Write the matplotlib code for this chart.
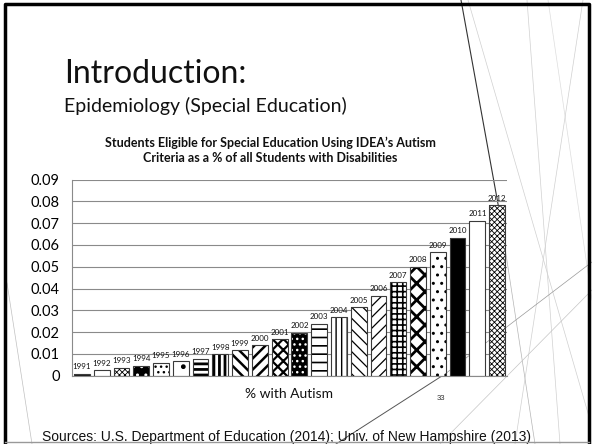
import matplotlib
matplotlib.use("Agg")
import matplotlib.pyplot as plt
import numpy as np
from matplotlib.lines import Line2D

years = ["1991", "1992", "1993", "1994", "1995", "1996", "1997", "1998", "1999", "2000", "2001",
         "2002", "2003", "2004", "2005", "2006", "2007", "2008", "2009", "2010", "2011", "2012"]
values = [0.0008, 0.0026, 0.0037, 0.0046, 0.0060, 0.0067, 0.0078, 0.0098, 0.0116, 0.0139, 0.0168,
          0.0197, 0.0239, 0.0269, 0.0314, 0.0366, 0.0428, 0.0499, 0.0566, 0.0633, 0.0711, 0.0782]
ytick_values = [0, 0.01, 0.02, 0.03, 0.04, 0.05, 0.06, 0.07, 0.08, 0.09]
ytick_labels = ["0", "0.01", "0.02", "0.03", "0.04", "0.05", "0.06", "0.07", "0.08", "0.09"]

slide_title = "Introduction:"
slide_subtitle = "Epidemiology (Special Education)"
chart_title = "Students Eligible for Special Education Using IDEA\u2019s Autism\nCriteria as a % of all Students with Disabilities"
x_label = "% with Autism"
page_number = "33"
sources = "Sources: U.S. Department of Education (2014); Univ. of New Hampshire (2013)"

# per-bar fill styles: (facecolor, hatch, hatchcolor, hatch linewidth)
styles = [
    ("#1a1a1a", None, "black", 1.0),      # 1991
    ("white", None, "black", 1.0),        # 1992
    ("white", "xxxxxx", "black", 0.6),    # 1993
    ("black", "..", "white", 1.0),        # 1994
    ("white", "...", "black", 1.0),       # 1995
    ("white", ".", "black", 1.0),         # 1996
    ("white", "---", "black", 2.0),       # 1997
    ("white", "|||", "black", 2.0),       # 1998
    ("white", "\\\\\\", "black", 1.8),    # 1999
    ("white", "///", "black", 1.8),       # 2000
    ("white", "xxx", "black", 1.6),       # 2001
    ("black", "...", "white", 1.0),       # 2002
    ("white", "--", "black", 1.2),        # 2003
    ("white", "|||", "black", 1.0),       # 2004
    ("white", "\\\\\\", "black", 0.9),    # 2005
    ("white", "///", "black", 0.9),       # 2006
    ("white", "+++", "black", 1.2),       # 2007
    ("white", "xx", "black", 2.0),        # 2008
    ("white", "..", "black", 1.0),        # 2009
    ("black", None, "black", 1.0),        # 2010
    ("white", None, "black", 1.0),        # 2011
    ("white", "xxxxxx", "black", 0.6),    # 2012
]

W, H = 592, 444
fig = plt.figure(figsize=(W / 100, H / 100), dpi=100)
fig.patch.set_facecolor("white")

def px(x, y):
    return x / W, 1 - y / H

# decorative slide lines (theme background)
deco = [
    ((461, 0), (500, 215), "#333333", 0.8),
    ((500, 215), (535, 444), "#b5b5b5", 0.5),
    ((468, 0), (590, 420), "#d0d0d0", 0.5),
    ((527, 0), (560, 444), "#d0d0d0", 0.5),
    ((548, 0), (592, 300), "#dddddd", 0.5),
    ((583, 0), (515, 444), "#d0d0d0", 0.5),
    ((336, 444), (445, 374), "#555555", 0.7),
    ((445, 374), (592, 262), "#999999", 0.5),
    ((440, 444), (592, 290), "#c5c5c5", 0.5),
    ((7, 283), (32, 444), "#c0c0c0", 0.5),
]
for (x0, y0), (x1, y1), c, lw in deco:
    a0 = px(x0, y0); a1 = px(x1, y1)
    fig.add_artist(Line2D([a0[0], a1[0]], [a0[1], a1[1]], color=c, lw=lw,
                          transform=fig.transFigure, zorder=0))

# frame
f_l, f_t = px(4.5, 4.5)
f_r, f_b = px(589, 442)
fig.add_artist(Line2D([f_l, f_l, f_r, f_r], [f_b, f_t, f_t, f_b], color="black", lw=2.5,
                      transform=fig.transFigure, zorder=5))
fig.add_artist(Line2D([f_l, f_r], [f_b, f_b], color="#999999", lw=1.0,
                      transform=fig.transFigure, zorder=5))

ax = fig.add_axes([72 / W, 1 - 375.7 / H, 435 / W, (375.7 - 179.5) / H])
ax.set_facecolor("none")
x = np.arange(len(years))
for i, (fc, hatch, hc, hlw) in enumerate(styles):
    with plt.rc_context({"hatch.linewidth": hlw, "hatch.color": hc}):
        b = ax.bar(x[i], values[i], width=0.8, color=fc, edgecolor=hc, linewidth=0,
                   hatch=hatch, zorder=2)
        for p in b:
            if hasattr(p, "set_hatch_linewidth"):
                p.set_hatch_linewidth(hlw)
ax.bar(x, values, width=0.8, fill=False, edgecolor="#3a3a3a", linewidth=0.8, zorder=3)

for i in range(len(years)):
    ax.annotate(years[i], (x[i], values[i]), xytext=(0, 2.5), textcoords="offset points",
                ha="center", va="bottom", fontsize=5.8, family="Lato", color="#111111", zorder=4)

ax.set_xlim(-0.5, len(years) - 0.5)
ax.set_ylim(0, 0.09)
ax.set_yticks(ytick_values)
ax.set_yticklabels(ytick_labels, family="Lato", fontsize=10.5)
ax.set_xticks([])
ax.tick_params(axis="y", length=0, pad=9)
ax.grid(axis="y", color="#8a8a8a", lw=0.8, zorder=1)
ax.set_axisbelow(True)
for s in ["top", "right"]:
    ax.spines[s].set_visible(False)
for s in ["left", "bottom"]:
    ax.spines[s].set_color("#8a8a8a")
    ax.spines[s].set_linewidth(0.8)

fig.text(*px(64, 83), slide_title, family="Lato", fontsize=23, va="baseline", ha="left", color="#111111")
fig.text(*px(64, 112), slide_subtitle, family="Lato", fontsize=14, va="baseline", ha="left", color="#111111")
fig.text(*px(270, 150.5), chart_title, family="Lato", fontweight="bold", fontsize=9, ha="center",
         va="center", linespacing=1.25, color="#111111")
fig.text(*px(289, 394), x_label, family="Lato", fontsize=10, ha="center", va="center", color="#111111")
fig.text(*px(441, 398), page_number, family="Liberation Sans", fontsize=5.5, ha="center", va="center", color="#333333")
fig.text(*px(287, 437), sources, family="Liberation Sans", fontsize=10, ha="center", va="center", color="#111111")

fig.savefig("out.png", dpi=100)
